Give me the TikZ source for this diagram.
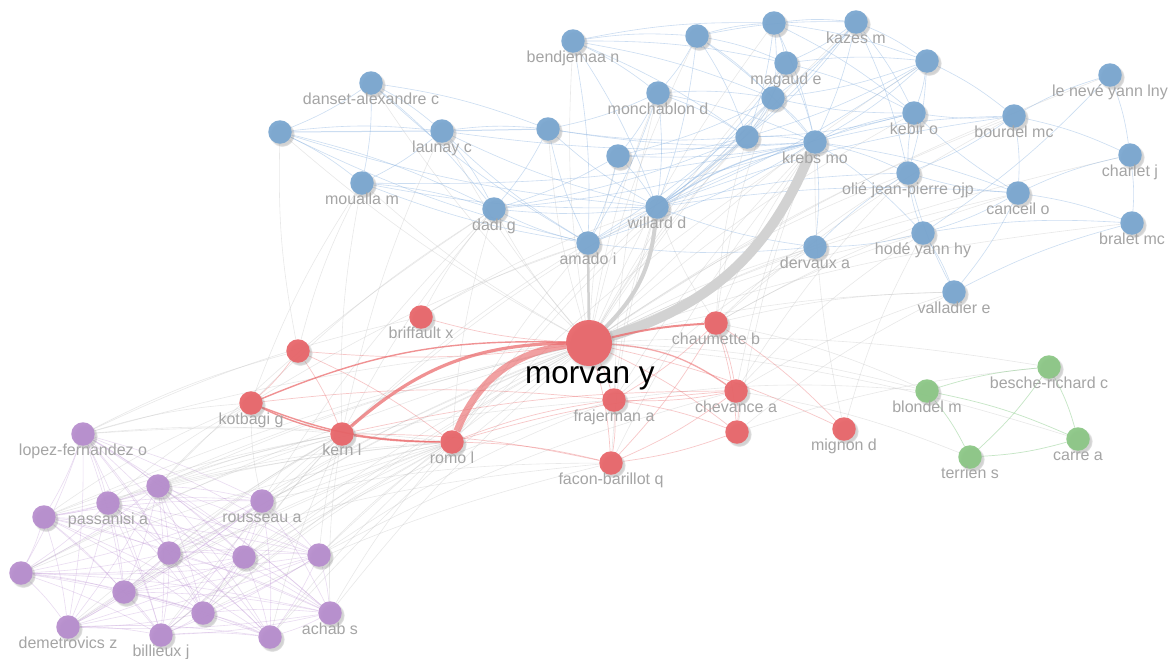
\documentclass[tikz,border=0pt]{standalone}
\usepackage{fontspec}
\setmainfont{Liberation Sans}
\usetikzlibrary{shadows,fadings}
\pgfdeclarelayer{back}
\pgfdeclarelayer{bg}
\pgfsetlayers{back,bg,main}
\definecolor{blueN}{RGB}{120,165,207}
\definecolor{redN}{RGB}{232,100,104}
\definecolor{greenN}{RGB}{138,198,132}
\definecolor{purpN}{RGB}{182,140,205}
\definecolor{labelG}{RGB}{165,165,165}
\definecolor{greyE}{RGB}{195,195,195}
\definecolor{blueE}{RGB}{140,180,225}
\definecolor{redE}{RGB}{235,110,112}
\definecolor{purpE}{RGB}{185,140,210}
\definecolor{greenE}{RGB}{140,205,140}
\definecolor{thickG}{RGB}{210,210,210}
\tikzset{
  vn/.style={circle,inner sep=0pt,minimum size=23.5pt,fill=#1,fill opacity=0.93,draw=none,
    circular drop shadow={shadow xshift=2pt,shadow yshift=-2.2pt,fill opacity=0.35,shadow scale=1.08}},
  lbl/.style={anchor=base,text=labelG,font=\fontsize{16}{19}\selectfont,inner sep=0pt},
  ge/.style={draw=greyE,line width=0.6pt,draw opacity=0.38},
  be/.style={draw=blueE,line width=0.6pt,draw opacity=0.45},
  re/.style={draw=redE,line width=0.7pt,draw opacity=0.38},
  pe/.style={draw=purpE,line width=0.6pt,draw opacity=0.3},
  gre/.style={draw=greenE,line width=0.7pt,draw opacity=0.5},
}
\newcommand\vnd[5]{%
  \node[vn=#1] (#2) at (#3,-#4) {};%
  \if\relax\detokenize{#5}\relax\else
    \node[lbl] (#2l) at (#3,-#4-21.5) {#5};%
  \fi}
\begin{document}
\begin{tikzpicture}[x=1pt,y=1pt]
\begin{pgfonlayer}{back}
\fill[white] (0,0) rectangle (1168,-659);
\end{pgfonlayer}
\useasboundingbox (0,0) rectangle (1168,-659);
% ---------------- nodes ----------------
% blue cluster
\vnd{blueN}{b1}{573}{41}{bendjemaa n}
\vnd{blueN}{b2}{697}{36}{}
\vnd{blueN}{b3}{774}{23}{}
\vnd{blueN}{b4}{856}{22}{kazes m}
\vnd{blueN}{b5}{786}{63}{magaud e}
\vnd{blueN}{b6}{927}{61}{}
\vnd{blueN}{b7}{1110}{75}{le nevé yann lny}
\vnd{blueN}{b8}{371}{83}{danset-alexandre c}
\vnd{blueN}{b9}{658}{93}{monchablon d}
\vnd{blueN}{b10}{773}{98}{}
\vnd{blueN}{b11}{914}{113}{kebir o}
\vnd{blueN}{b12}{1014}{116}{bourdel mc}
\vnd{blueN}{b13}{280}{132}{}
\vnd{blueN}{b14}{442}{131}{launay c}
\vnd{blueN}{b15}{548}{129}{}
\vnd{blueN}{b16}{747}{137}{}
\vnd{blueN}{b17}{815}{142}{krebs mo}
\vnd{blueN}{b18}{618}{156}{}
\vnd{blueN}{b19}{1130}{155}{charlet j}
\vnd{blueN}{b20}{908}{173}{olié jean-pierre ojp}
\vnd{blueN}{b21}{362}{183}{moualla m}
\vnd{blueN}{b22}{1018}{193}{canceil o}
\vnd{blueN}{b23}{494}{209}{dadi g}
\vnd{blueN}{b24}{657}{207}{willard d}
\vnd{blueN}{b25}{923}{233}{hodé yann hy}
\vnd{blueN}{b26}{1132}{223}{bralet mc}
\vnd{blueN}{b27}{588}{243}{amado i}
\vnd{blueN}{b28}{815}{247}{dervaux a}
\vnd{blueN}{b29}{954}{292}{valladier e}
% red cluster
\node[vn=redN,minimum size=46pt] (r0) at (589,-343) {};
\vnd{redN}{r1}{421}{317}{briffault x}
\vnd{redN}{r2}{298}{351}{}
\vnd{redN}{r3}{716}{323}{chaumette b}
\vnd{redN}{r4}{251}{403}{kotbagi g}
\vnd{redN}{r5}{736}{391}{chevance a}
\vnd{redN}{r6}{614}{400}{frajerman a}
\vnd{redN}{r7}{342}{434}{kern l}
\vnd{redN}{r8}{452}{442}{romo l}
\vnd{redN}{r9}{737}{432}{}
\vnd{redN}{r10}{844}{429}{mignon d}
\vnd{redN}{r11}{611}{463}{facon-barillot q}
% green cluster
\vnd{greenN}{g1}{927}{391}{blondel m}
\vnd{greenN}{g2}{1049}{367}{besche-richard c}
\vnd{greenN}{g3}{1078}{439}{carre a}
\vnd{greenN}{g4}{970}{457}{terrien s}
% purple cluster
\vnd{purpN}{p1}{83}{434}{lopez-fernandez o}
\vnd{purpN}{p2}{158}{486}{}
\vnd{purpN}{p3}{108}{503}{passanisi a}
\vnd{purpN}{p4}{44}{517}{}
\vnd{purpN}{p5}{262}{501}{rousseau a}
\vnd{purpN}{p6}{169}{553}{}
\vnd{purpN}{p7}{244}{557}{}
\vnd{purpN}{p8}{319}{555}{}
\vnd{purpN}{p9}{21}{573}{}
\vnd{purpN}{p10}{124}{592}{}
\vnd{purpN}{p11}{203}{613}{}
\vnd{purpN}{p12}{330}{613}{achab s}
\vnd{purpN}{p13}{68}{627}{demetrovics z}
\vnd{purpN}{p14}{161}{635}{billieux j}
\vnd{purpN}{p15}{270}{637}{}
\node[anchor=base,font=\fontsize{31.5}{36}\selectfont,text=black,inner sep=0pt] (r0l) at (590,-383) {morvan y};
% ---------------- edges ----------------
\begin{pgfonlayer}{bg}
% grey inter-cluster edges
\foreach \a/\b in {r0/b1,r0/b2,r0/b3,r0/b4,r0/b5,r0/b6,r0/b8,r0/b9,r0/b10,r0/b11,r0/b12,r0/b13,r0/b14,r0/b15,r0/b16,r0/b18,r0/b20,r0/b21,r0/b22,r0/b23,r0/b25,r0/b28,r0/b29,r0/b19,r0/b26,r0/b7,
  r3/b17,r3/b24,r3/b20,r3/b25,r3/b29,r3/b12,r3/b16,r3/b10,r3/b22,r5/b29,r5/b20,r5/b17,r5/b25,r6/b17,r6/b24,r6/b9,r6/b28,r8/b17,r8/b24,r8/b23,r8/b27,r8/b16,
  r7/b21,r7/b14,r7/b27,r7/b24,r7/b23,r2/b13,r2/b21,r4/b23,r4/b27,r4/b21,r11/b17,r11/b24,r10/b17,r10/b25,r1/b27,r1/b24,r1/b23,r9/b17,r9/b29,
  r0/g1,r0/g2,r0/g3,r5/g4,r3/g1,r6/g1,r9/g2,
  p1/r4,p3/r4,p5/r4,p2/r4,p4/r4,p1/r2,p8/r6,p7/r6,p11/r11,p6/r11,p5/r11,p2/r6,p5/b23,p2/b23,p8/r5,p1/r1}
  \draw[ge] (\a) to[bend left=6] (\b);
\foreach \i in {1,...,15}{
  \draw[ge] (p\i) to[bend left=5] (r0);
  \draw[ge] (p\i) to[bend left=5] (r7);
  \draw[ge] (p\i) to[bend left=5] (r8);
}
% blue edges
\foreach \a/\b in {b1/b2,b1/b9,b1/b10,b1/b3,b1/b16,b1/b24,b1/b27,b1/b5,
  b2/b3,b2/b4,b2/b5,b2/b16,b2/b17,b2/b24,b2/b9,b2/b10,
  b3/b4,b3/b5,b3/b10,b3/b17,b3/b11,b3/b6,b3/b16,
  b4/b6,b4/b5,b4/b10,b4/b17,b4/b24,b4/b11,b4/b20,b4/b16,
  b5/b10,b5/b16,b5/b17,b5/b6,b5/b24,b5/b11,
  b6/b11,b6/b12,b6/b17,b6/b20,b6/b24,b6/b16,b6/b10,
  b9/b10,b9/b16,b9/b17,b9/b18,b9/b24,b9/b27,b9/b15,
  b10/b16,b10/b17,b10/b24,b10/b18,b10/b27,
  b16/b17,b16/b24,b16/b18,b16/b27,b16/b23,b16/b15,
  b17/b18,b17/b27,b17/b23,b17/b21,b17/b12,b17/b20,b17/b28,b17/b11,b17/b22,b17/b25,b17/b15,b17/b14,
  b18/b24,b18/b27,b18/b23,
  b24/b27,b24/b23,b24/b12,b24/b20,b24/b22,b24/b11,b24/b21,b24/b15,b24/b14,b24/b13,
  b27/b23,b27/b21,b27/b14,b27/b13,b27/b8,b27/b15,
  b8/b13,b8/b14,b8/b21,b8/b23,b8/b15,
  b13/b14,b13/b21,b13/b23,
  b14/b15,b14/b21,b14/b23,
  b21/b23,b15/b23,
  b12/b7,b12/b11,b12/b20,b12/b22,b12/b19,
  b7/b19,b7/b25,
  b19/b26,b22/b26,b22/b19,b22/b20,b22/b25,b22/b29,b22/b11,
  b25/b29,b25/b20,b25/b26,b25/b28,
  b29/b26,b29/b20,b28/b20,b28/b24,b28/b27,b20/b11,b11/b10,b11/b16}
  \draw[be] (\a) to[bend left=6] (\b);
\draw[be,line width=1.2pt,draw opacity=0.55] (b24) to[bend left=10] (b17);
\draw[be,line width=1pt] (b13) -- (b14);
\draw[be,line width=1pt] (b14) -- (b15);
% purple edges
\foreach \i in {1,...,14}{\pgfmathtruncatemacro\s{\i+1}\foreach \j in {\s,...,15}{\draw[pe] (p\i) to[bend left=5] (p\j);}}
% green edges
\foreach \a/\b in {g1/g2,g1/g3,g1/g4,g2/g3,g2/g4,g3/g4}
  \draw[gre] (\a) to[bend left=6] (\b);
% red edges
\foreach \a/\b in {r0/r1,r0/r2,r0/r6,r0/r9,r0/r10,r0/r11,r2/r4,r2/r7,r2/r8,
  r7/r11,r8/r11,r8/r6,r8/r5,r7/r5,r4/r6,
  r3/r5,r3/r9,r3/r6,r3/r11,r5/r6,r5/r9,r5/r11,r6/r9,r6/r11,r9/r11,r3/r10}
  \draw[re] (\a) to[bend left=6] (\b);
% thick edges
\draw[thickG,line width=10pt] (r0) to[bend right=25] (b17);
\draw[thickG,line width=4pt] (r0) to[bend right=20] (b24);
\draw[thickG,line width=2.5pt] (r0) -- (b27);
\draw[redE,draw opacity=0.65,line width=7pt] (r0) to[bend right=30] (r8);
\draw[redE,draw opacity=0.75,line width=3.2pt] (r0) to[bend right=20] (r7);
\draw[redE,draw opacity=0.75,line width=1.4pt] (r0) to[bend right=12] (r4);
\draw[redE,draw opacity=0.8,line width=2pt] (r0) to[bend left=5] (r3);
\draw[redE,draw opacity=0.6,line width=1.3pt] (r0) to[bend left=15] (r5);
\draw[redE,draw opacity=0.75,line width=1.4pt] (r4) to[bend right=6] (r7);
\draw[redE,draw opacity=0.75,line width=1.4pt] (r4) to[bend right=10] (r8);
\draw[redE,draw opacity=0.75,line width=1.4pt] (r7) to[bend right=4] (r8);
\end{pgfonlayer}
\end{tikzpicture}
\end{document}
